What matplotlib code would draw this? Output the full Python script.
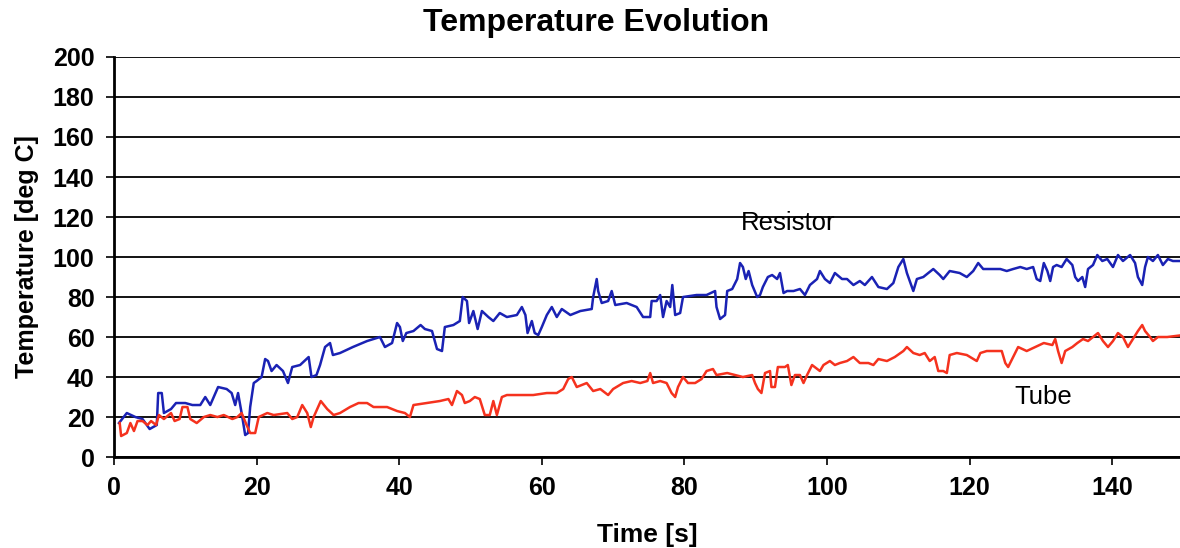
import matplotlib.pyplot as plt

# Resistor temperature (blue)
t_res = [0.7, 1.8, 3.0, 4.0, 5.0, 6.0, 6.2, 6.7, 7.0, 8.0, 8.7, 10.0, 11.0, 12.1,
         12.8, 13.5, 14.6, 15.8, 16.5, 17.0, 17.4, 17.9, 18.4, 18.8, 19.1, 19.6,
         20.0, 20.7, 21.2, 21.6, 22.1, 22.8, 23.7, 24.4, 25.0, 26.1, 27.3, 27.7,
         28.4, 28.9, 29.6, 30.3, 30.7, 31.7, 33.5, 35.5, 37.3, 38.0, 39.0, 39.7,
         40.1, 40.5, 41.0, 42.0, 43.0, 43.6, 44.6, 45.3, 46.0, 46.4, 47.6, 48.5,
         48.9, 49.5, 49.8, 50.4, 51.0, 51.6, 52.5, 53.2, 54.1, 55.1, 56.5, 57.2,
         57.7, 58.0, 58.6, 59.0, 59.5, 60.0, 60.7, 61.4, 62.1, 62.8, 64.0, 65.4,
         67.0, 67.2, 67.7, 67.9, 68.4, 69.3, 69.8, 70.3, 71.9, 73.3, 74.2, 75.2,
         75.4, 76.1, 76.6, 77.0, 77.5, 78.0, 78.3, 78.7, 79.4, 79.8, 81.7, 83.1,
         84.3, 84.5, 85.0, 85.7, 86.0, 86.7, 87.4, 87.8, 88.2, 88.6, 89.0, 89.5,
         90.2, 90.6, 91.0, 91.7, 92.3, 93.0, 93.4, 93.9, 94.4, 95.3, 96.2, 96.9,
         97.6, 98.6, 99.0, 99.7, 100.4, 101.1, 102.1, 102.8, 103.7, 104.6, 105.3,
         106.3, 107.2, 108.4, 109.3, 110.0, 110.7, 111.2, 111.6, 112.1, 112.6,
         113.5, 114.9, 115.8, 116.3, 117.2, 118.6, 119.6, 120.5, 121.2, 121.9,
         124.3, 125.2, 126.1, 127.1, 128.0, 128.9, 129.4, 129.9, 130.4, 130.9,
         131.3, 131.7, 132.2, 132.9, 133.6, 134.4, 134.8, 135.2, 135.8, 136.2,
         136.6, 137.3, 137.9, 138.6, 139.3, 140.1, 140.8, 141.5, 142.5, 143.2,
         143.6, 144.2, 144.6, 145.0, 145.7, 146.4, 147.1, 147.8, 148.5, 150.0]
res = [17, 22, 20, 19, 14, 16, 32, 32, 22, 24, 27, 27, 26, 26,
       30, 26, 35, 34, 32, 26, 32, 22, 11, 12, 25, 37,
       38, 40, 49, 48, 43, 46, 43, 37, 45, 46, 50, 40,
       41, 46, 55, 57, 51, 52, 55, 58, 60, 55, 57, 67,
       65, 58, 62, 63, 66, 64, 63, 54, 53, 65, 66, 68,
       80, 78, 67, 73, 64, 73, 70, 68, 72, 70, 71, 75,
       71, 62, 68, 62, 61, 65, 71, 75, 70, 74, 71, 73,
       74, 80, 89, 83, 77, 78, 83, 76, 77, 75, 70, 70,
       78, 78, 81, 70, 78, 75, 86, 71, 72, 80, 81, 81,
       83, 75, 69, 71, 83, 84, 89, 97, 95, 89, 93, 86,
       80, 81, 85, 90, 91, 89, 92, 82, 83, 83, 84, 81,
       86, 89, 93, 89, 87, 92, 89, 89, 86, 88, 86,
       90, 85, 84, 87, 95, 99, 92, 88, 83, 89,
       90, 94, 91, 89, 93, 92, 90, 93, 97, 94,
       94, 93, 94, 95, 94, 95, 89, 88, 97, 93,
       88, 95, 96, 95, 99, 96, 90, 88, 90, 85,
       94, 96, 101, 98, 99, 95, 101, 98, 101, 97,
       90, 86, 95, 100, 98, 101, 96, 99, 98, 98]

# Tube temperature (red)
t_tube = [0.8, 1.0, 1.8, 2.3, 2.8, 3.3, 4.0, 4.7, 5.2, 5.9, 6.3, 7.0, 8.0, 8.5,
          9.2, 9.6, 10.3, 10.7, 11.6, 12.6, 13.5, 14.5, 15.4, 16.6, 17.3, 17.9,
          18.6, 19.1, 19.8, 20.3, 21.5, 22.4, 24.3, 25.0, 25.7, 26.4, 27.1, 27.6,
          28.0, 29.0, 29.9, 30.8, 31.7, 33.1, 34.3, 35.5, 36.4, 38.3, 39.7, 40.8,
          41.5, 42.0, 43.9, 45.7, 46.9, 47.4, 48.1, 48.8, 49.2, 49.9, 50.6, 51.3,
          52.0, 52.7, 53.2, 53.7, 54.4, 55.1, 56.9, 58.8, 60.7, 62.1, 63.0, 63.7,
          64.2, 64.9, 65.6, 66.3, 67.2, 68.2, 69.3, 70.0, 71.4, 72.6, 73.8, 74.8,
          75.2, 75.6, 76.6, 77.5, 78.2, 78.7, 79.1, 79.8, 80.5, 81.5, 82.4, 83.1,
          84.0, 84.5, 86.0, 87.1, 88.2, 89.5, 89.9, 90.3, 90.8, 91.3, 92.0, 92.2,
          92.7, 93.1, 94.1, 94.5, 95.0, 95.5, 96.2, 96.7, 97.2, 97.9, 99.0, 99.5,
          100.4, 101.1, 101.8, 102.8, 103.7, 104.6, 105.8, 106.5, 107.2, 108.4,
          109.5, 110.7, 111.2, 112.1, 113.0, 113.7, 114.4, 115.1, 115.6, 116.3,
          116.8, 117.2, 118.2, 119.6, 121.0, 121.5, 122.4, 123.8, 124.5, 125.0,
          125.4, 126.1, 126.8, 128.0, 129.2, 130.4, 131.6, 132.0, 132.4, 132.9,
          133.4, 134.4, 135.1, 135.9, 136.6, 137.3, 138.0, 138.7, 139.4, 140.1,
          140.8, 141.5, 142.2, 142.9, 143.6, 144.2, 144.6, 145.3, 145.7, 146.4,
          147.7, 150.0]
tube = [17, 10.5, 12, 17, 13, 18, 18, 16, 18, 16, 21, 19, 22, 18,
        19, 25, 25, 19, 17, 20, 21, 20, 21, 19, 20, 22,
        16, 12, 12, 20, 22, 21, 22, 19, 20, 26, 22, 15,
        20, 28, 24, 21, 22, 25, 27, 27, 25, 25, 23, 22,
        20, 26, 27, 28, 29, 26, 33, 31, 27, 28, 30, 29,
        21, 21, 28, 21, 30, 31, 31, 31, 32, 32, 34, 39,
        40, 35, 36, 37, 33, 34, 31, 34, 37, 38, 37, 38,
        42, 37, 38, 37, 32, 30, 35, 40, 37, 37, 39, 43,
        44, 41, 42, 41, 40, 41, 37, 34, 32, 42, 43, 35,
        35, 45, 45, 46, 36, 41, 41, 37, 41, 46, 43, 46,
        48, 46, 47, 48, 50, 47, 47, 46, 49, 48,
        50, 53, 55, 52, 51, 52, 48, 50, 43, 43,
        42, 51, 52, 51, 48, 52, 53, 53, 53, 47,
        45, 50, 55, 53, 55, 57, 56, 59, 53, 47,
        53, 55, 57, 59, 58, 60, 62, 58, 55, 58,
        62, 60, 55, 59, 63, 66, 63, 60, 58, 60,
        60, 61]

x_ticks = [0, 20, 40, 60, 80, 100, 120, 140]
y_ticks = [0, 20, 40, 60, 80, 100, 120, 140, 160, 180, 200]

plt.rcParams['font.family'] = ['Liberation Sans', 'DejaVu Sans']

fig = plt.figure(figsize=(11.8, 5.48), dpi=100)
ax = fig.add_axes([0.0966, 0.166, 0.9034, 0.730])

ax.plot(t_res, res, color='#1a22b4', linewidth=1.8)
ax.plot(t_tube, tube, color='#f5321e', linewidth=1.8)

ax.set_xlim(0, 149.5)
ax.set_ylim(0, 200)
ax.set_xticks(x_ticks)
ax.set_yticks(y_ticks)
ax.yaxis.grid(True, color='black', linewidth=1.3)
ax.set_axisbelow(True)

for side in ['top', 'right']:
    ax.spines[side].set_visible(False)
ax.spines['left'].set_linewidth(2)
ax.spines['bottom'].set_linewidth(2)
ax.tick_params(direction='out', length=6, width=1.2, labelsize=18, pad=8)
for lbl in ax.get_xticklabels() + ax.get_yticklabels():
    lbl.set_fontweight('bold')

fig.suptitle('Temperature Evolution', fontsize=23, fontweight='bold', x=0.505, y=0.985)
ax.set_xlabel('Time [s]', fontsize=19, fontweight='bold', labelpad=16)
ax.set_ylabel('Temperature [deg C]', fontsize=18, fontweight='bold', labelpad=10)

ax.text(94.5, 117, 'Resistor', fontsize=18.5, ha='center', va='center')
ax.text(130.3, 30, 'Tube', fontsize=18.5, ha='center', va='center')

fig.savefig('out.png', dpi=100)
